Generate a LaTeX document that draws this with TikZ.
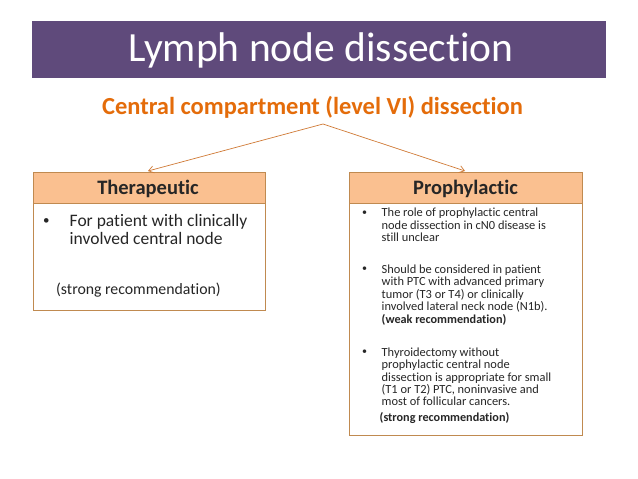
\documentclass[tikz,border=0pt]{standalone}
\usepackage{fontspec}
\setmainfont{Carlito}[Ligatures={NoCommon}]
\usetikzlibrary{arrows.meta}
\definecolor{barpurple}{HTML}{5F4A7B}
\definecolor{subor}{HTML}{E46C0A}
\definecolor{hdrfill}{HTML}{FAC090}
\definecolor{boxline}{HTML}{C08A50}
\definecolor{arrowc}{HTML}{D07A36}
\tikzset{
  hdr/.style={draw=boxline, fill=hdrfill, line width=0.8pt},
  body/.style={draw=boxline, line width=0.8pt},
  lt/.style={anchor=base west, inner sep=0pt, font=\fontsize{17.5}{20}\selectfont, text=black!85},
  lbul/.style={anchor=base west, inner sep=0pt, font=\fontsize{13}{15}\selectfont, text=black!85},
  ltr/.style={anchor=base west, inner sep=0pt, font=\fontsize{15.8}{18}\selectfont, text=black!85},
  rt/.style={anchor=base west, inner sep=0pt, font=\fontsize{12.4}{13}\selectfont, text=black!85},
  rbul/.style={anchor=base west, inner sep=0pt, font=\fontsize{10}{12}\selectfont, text=black!85},
  rtb/.style={rt, font=\fontsize{12.2}{13}\selectfont\bfseries},
  hdrtext/.style={anchor=base, inner sep=0pt, font=\fontsize{20.5}{23}\selectfont\bfseries, text=black!85},
  conn/.style={draw=arrowc, line width=0.7pt, -{Straight Barb[length=5pt,width=7pt]}}
}
\begin{document}
\begin{tikzpicture}[x=1pt,y=-1pt]
\useasboundingbox[fill=white] (0,0) rectangle (638,479);
% title bar
\fill[barpurple] (32,21) rectangle (606,78);
\node[inner sep=0pt, text=white, font=\fontsize{41.5}{46}\selectfont] (title) at (321,50) {Lymph node dissection};
\node[anchor=base, inner sep=0pt, text=subor, font=\fontsize{24.5}{28}\selectfont\bfseries] (sub) at (312.5,114) {Central compartment (level VI) dissection};
\coordinate (apex) at (323,124);
% boxes
\draw[body] (33,203) rectangle (265,310);
\draw[hdr] (33,172) rectangle (265,203);
\draw[body] (349,203) rectangle (582,435);
\draw[hdr] (349,172) rectangle (582,203);
\node[hdrtext] (ther) at (148,194) {Therapeutic};
\node[hdrtext] (proph) at (465.5,194) {Prophylactic};
\coordinate (therT) at (148,171);
\coordinate (prophT) at (465,171);
\draw[conn] (apex) -- (therT);
\draw[conn] (apex) -- (prophT);
% left text
\node[lbul] (lb1) at (43,224) {•};
\node[lt] (l1) at (69.5,226) {For patient with clinically};
\node[lt] (l2) at (69.5,244) {involved central node};
\node[ltr] (l3) at (56,294) {(strong recommendation)};
% right text
\node[rbul] (rb1) at (362,215.5) {•};
\node[rt] (r1) at (381.5,216.7) {The role of prophylactic central};
\node[rt] (r2) at (381.5,229) {node dissection in cN0 disease is};
\node[rt] (r3) at (381.5,241.3) {still unclear};
\node[rbul] (rb2) at (362,271.8) {•};
\node[rt] (r4) at (381.5,273) {Should be considered in patient};
\node[rt] (r5) at (381.5,285.5) {with PTC with advanced primary};
\node[rt] (r6) at (381.5,298) {tumor (T3 or T4) or clinically};
\node[rt] (r7) at (381.5,310.5) {involved lateral neck node (N1b).};
\node[rtb] (r8) at (381.5,323) {(weak recommendation)};
\node[rbul] (rb3) at (362,354.8) {•};
\node[rt] (r9) at (381.5,356) {Thyroidectomy without};
\node[rt] (r10) at (381.5,368.5) {prophylactic central node};
\node[rt] (r11) at (381.5,381) {dissection is appropriate for small};
\node[rt] (r12) at (381.5,393.5) {(T1 or T2) PTC, noninvasive and};
\node[rt] (r13) at (381.5,405.8) {most of follicular cancers.};
\node[rtb] (r14) at (379.5,421.7) {(strong recommendation)};
\end{tikzpicture}
\end{document}
